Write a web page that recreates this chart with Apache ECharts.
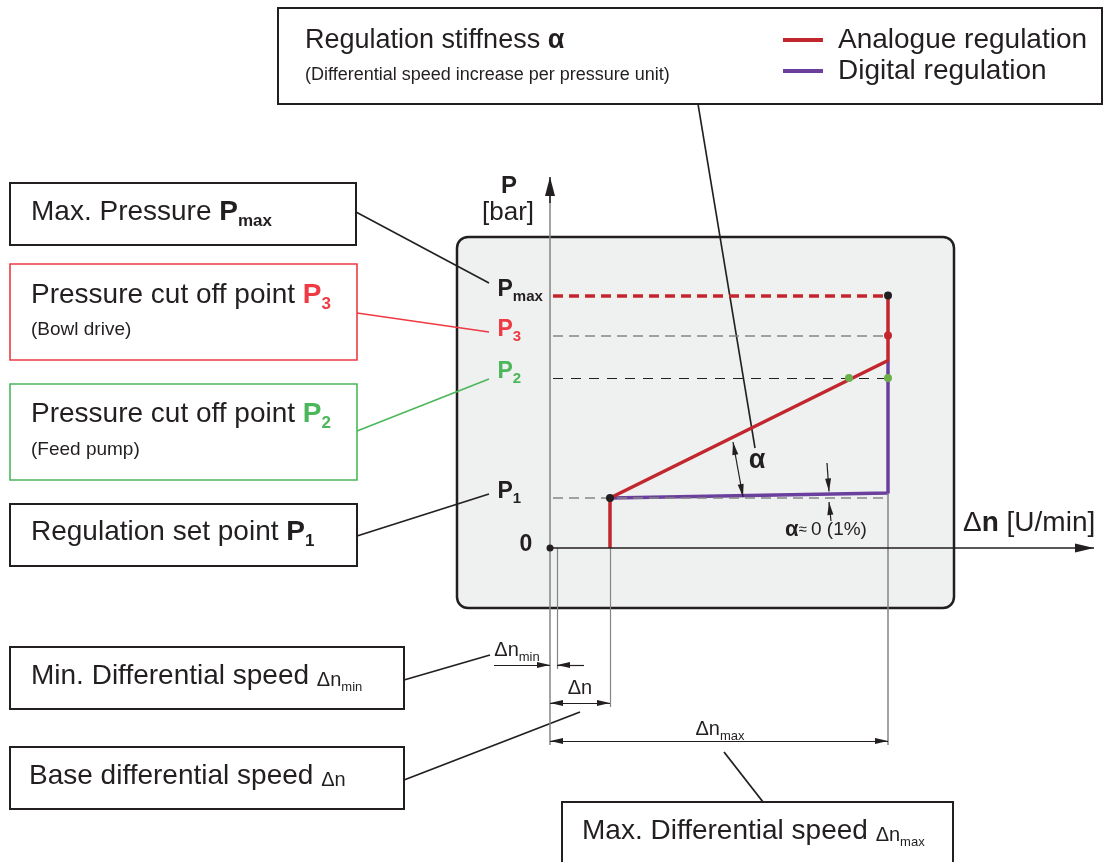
<!DOCTYPE html>
<html lang="en">
<head>
<meta charset="UTF-8">
<title>Regulation stiffness</title>
<script src="https://cdn.jsdelivr.net/npm/echarts@6/dist/echarts.min.js"></script>
<style>html,body{margin:0;padding:0;background:#fff;}</style>
</head>
<body>
<div id="main" style="width:1110px;height:862px;"></div>
<script type="text/javascript">
    // values (Δn in U/min, P in bar)
    var speedTicks = ['Δn_min', 'Δn', 'Δn_max'];
    var speedValues = [1.4, 12, 67.6];
    var pressureTicks = ['P1', 'P2', 'P3', 'Pmax'];
    var pressureValues = [1.0, 3.4, 4.25, 5.05];
    // analogue regulation: steep ramp from P1 up to the cut off at Δn_max
    var analogueX = [12, 12, 67.6, 67.6];
    var analogueY = [0, 1.0, 3.75, 5.05];
    // digital regulation: almost flat (α ≈ 0)
    var digitalX = [12, 67.6, 67.6];
    var digitalY = [1.0, 1.1, 3.75];
    // marked points
    var dotX = [0, 12, 67.6, 67.6, 59.8, 67.6];
    var dotY = [0, 1.0, 5.05, 4.25, 3.4, 3.4];

    var FONT = '"Liberation Sans", Arial, Helvetica, sans-serif';
    var ink = '#231f20', red = '#c1272d', purple = '#6a3f9e', grey = '#858585';
    var textRed = '#ee3a43', textGreen = '#4cb75a', dotGreen = '#6cb04a';
    var dotColors = [ink, ink, ink, red, dotGreen, dotGreen];

    function pairs(xs, ys) {
        return xs.map(function (x, i) { return [x, ys[i]]; });
    }

    // rich text piece; raise lifts normal text so that subscripts sit lower
    function piece(size, color, bold, raise) {
        return {
            fontFamily: FONT, fontSize: size, fontWeight: bold ? 'bold' : 'normal',
            color: color, fill: color, verticalAlign: 'bottom',
            padding: [0, 0, raise || 0, 0]
        };
    }
    var boxRich = {
        n: piece(28, ink, false, 4),
        nb: piece(28, ink, true, 4),
        nr: piece(28, textRed, true, 4),
        ng: piece(28, textGreen, true, 4),
        sb: piece(17, ink, true),
        sr: piece(17, textRed, true),
        sg: piece(17, textGreen, true),
        d: piece(20, ink, false, 4),
        ds: piece(13, ink, false)
    };

    // arrow ends for the mark lines
    var ARROW = 'path://M5,0L10,20L0,20Z';
    function head(coord, w, h) {
        return {coord: coord, symbol: ARROW, symbolSize: [w, h], symbolOffset: [0, h / 2]};
    }
    function foot(coord, style) {
        var o = {coord: coord, symbol: 'none'};
        if (style) o.lineStyle = style;
        return o;
    }

    var dnMin = speedValues[0], dnBase = speedValues[1], dnMax = speedValues[2];

    // dashed pressure levels
    var guideStyles = [
        {color: grey, width: 1.5, type: [10, 6]},
        {color: ink, width: 1.2, type: [10, 8]},
        {color: grey, width: 1.5, type: [10, 6]},
        {color: red, width: 3.5, type: [10, 6]}
    ];
    var guideLines = pressureValues.map(function (p, i) {
        return [foot([0.6, p], guideStyles[i]), foot([dnMax, p])];
    });

    // dimension line levels below the axis
    var dimLevel = [-2.34, -3.1, -3.86];
    var extEnd = [-2.42, -3.18, -3.94];

    var axisLines = [
        [foot([0, 0], {color: ink, width: 1.5}), head([108.8, 0], 9, 19)],
        [foot([0, extEnd[2]], {color: grey, width: 1.5}), foot([0, 7.1])],
        [foot([0, 6.9], {color: ink, width: 1.5}), head([0, 7.42], 10, 19)]
    ];
    var extLines = [
        [foot([dnMin, 0], {color: grey, width: 1.2}), foot([dnMin, extEnd[0]])],
        [foot([dnBase, 0], {color: grey, width: 1.2}), foot([dnBase, extEnd[1]])],
        [foot([dnMax, digitalY[1]], {color: grey, width: 1.5}), foot([dnMax, extEnd[2]])]
    ];
    var dimLines = [
        [foot([-11.2, dimLevel[0]]), head([0, dimLevel[0]], 6, 13)],
        [foot([6.8, dimLevel[0]]), head([dnMin, dimLevel[0]], 6, 13)],
        [head([0, dimLevel[1]], 6, 13), head([dnBase, dimLevel[1]], 6, 13)],
        [head([0, dimLevel[2]], 6, 13), head([dnMax, dimLevel[2]], 6, 13)],
        [head([36.6, 2.12], 6, 13), head([38.6, 1.02], 6, 13)],
        [foot([55.4, 1.7]), head([55.8, 1.13], 6, 13)],
        [foot([56.2, 0.54]), head([55.8, 0.92], 6, 13)]
    ];

    function markSeries(lines, z) {
        return {
            type: 'line', data: [], z: z, silent: true, color: ink,
            markLine: {
                silent: true, animation: false,
                symbol: ['none', 'none'],
                label: {show: false},
                emphasis: {disabled: true},
                itemStyle: {color: ink},
                lineStyle: {type: 'solid', color: ink, width: 1.2},
                data: lines
            }
        };
    }

    // y tick labels P1..Pmax and 0
    var tickRich = {
        m: piece(23, ink, true, 3), s: piece(15, ink, true),
        mg: piece(23, textGreen, true, 3), sg: piece(15, textGreen, true),
        mr: piece(23, textRed, true, 3), sr: piece(15, textRed, true)
    };
    var tickKeys = [['m', 's'], ['mg', 'sg'], ['mr', 'sr'], ['m', 's']];
    var labelItems = pressureTicks.map(function (t, i) {
        var k = tickKeys[i];
        return {
            value: [0, pressureValues[i]],
            label: {
                show: true, position: [-52, -4], align: 'left', verticalAlign: 'middle',
                formatter: '{' + k[0] + '|' + t.charAt(0) + '}{' + k[1] + '|' + t.slice(1) + '}',
                rich: tickRich
            }
        };
    });
    labelItems.push({
        value: [0, 0],
        label: {show: true, position: [-30, -3], align: 'left', verticalAlign: 'middle',
            formatter: '0', fontFamily: FONT, fontSize: 23, fontWeight: 'bold', color: ink}
    });
    function dimText(coord, str) {
        return {
            value: coord,
            label: {show: true, position: 'inside', formatter: str, rich: boxRich}
        };
    }
    labelItems.push(dimText([-6.6, -2.08], '{d|Δn}{ds|' + speedTicks[0].split('_')[1] + '}'));
    labelItems.push(dimText([6, -2.84], '{d|' + speedTicks[1] + '}'));
    labelItems.push(dimText([34, -3.66], '{d|Δn}{ds|' + speedTicks[2].split('_')[1] + '}'));
    labelItems.push({
        value: [41.4, 1.74],
        label: {show: true, position: 'inside', formatter: 'α', fontFamily: FONT,
            fontSize: 27, fontWeight: 'bold', color: ink}
    });
    labelItems.push({
        value: [55.2, 0.36],
        label: {show: true, position: 'inside', formatter: '{a|α}{b|≈ }{c|0 (1%)}',
            rich: {
                a: {fontFamily: FONT, fontSize: 22, fontWeight: 'bold', color: ink},
                b: {fontFamily: FONT, fontSize: 15, color: ink},
                c: {fontFamily: FONT, fontSize: 19, color: ink}
            }}
    });

    var myChart = echarts.init(document.getElementById('main'));
    var option = {
        animation: false,
        backgroundColor: '#ffffff',
        legend: {
            data: ['Analogue regulation', 'Digital regulation'],
            orient: 'vertical', left: 778, top: 21,
            icon: 'rect', itemWidth: 40, itemHeight: 4, itemGap: 3,
            selectedMode: false,
            textStyle: {fontFamily: FONT, fontSize: 28, color: ink, padding: [0, 0, 0, 10]}
        },
        grid: {left: 10, right: 10, top: 48, bottom: 14},
        xAxis: {type: 'value', min: -108, max: 110, show: false},
        yAxis: {type: 'value', min: -6, max: 10, show: false},
        graphic: [
            // grey panel behind the diagram
            {type: 'rect', z: 0, shape: {x: 457, y: 237, width: 497, height: 371, r: 11},
                style: {fill: '#eff0f0', stroke: ink, lineWidth: 2.5}},
            // top box
            {type: 'rect', z: 0, shape: {x: 278, y: 8, width: 824, height: 96},
                style: {fill: '#fff', stroke: ink, lineWidth: 2}},
            {type: 'text', z: 1, x: 305, y: 41, style: {
                text: '{n|Regulation stiffness }{a|α}', verticalAlign: 'middle',
                rich: {n: piece(27, ink, false), a: piece(27, ink, true)}}},
            {type: 'text', z: 1, x: 305, y: 75, style: {
                text: '(Differential speed increase per pressure unit)', verticalAlign: 'middle',
                font: '18px ' + FONT, fill: ink}},
            // left boxes
            {type: 'rect', z: 0, shape: {x: 10, y: 183, width: 346, height: 62},
                style: {fill: '#fff', stroke: ink, lineWidth: 2}},
            {type: 'text', z: 1, x: 31, y: 214, style: {
                text: '{n|Max. Pressure }{nb|P}{sb|max}', verticalAlign: 'middle', rich: boxRich}},
            {type: 'rect', z: 0, shape: {x: 10, y: 264, width: 347, height: 96},
                style: {fill: '#fff', stroke: textRed, lineWidth: 1.6}},
            {type: 'text', z: 1, x: 31, y: 297, style: {
                text: '{n|Pressure cut off point }{nr|P}{sr|3}', verticalAlign: 'middle', rich: boxRich}},
            {type: 'text', z: 1, x: 31, y: 330, style: {
                text: '(Bowl drive)', verticalAlign: 'middle', font: '19px ' + FONT, fill: ink}},
            {type: 'rect', z: 0, shape: {x: 10, y: 384, width: 347, height: 96},
                style: {fill: '#fff', stroke: textGreen, lineWidth: 1.6}},
            {type: 'text', z: 1, x: 31, y: 416, style: {
                text: '{n|Pressure cut off point }{ng|P}{sg|2}', verticalAlign: 'middle', rich: boxRich}},
            {type: 'text', z: 1, x: 31, y: 450, style: {
                text: '(Feed pump)', verticalAlign: 'middle', font: '19px ' + FONT, fill: ink}},
            {type: 'rect', z: 0, shape: {x: 10, y: 504, width: 347, height: 62},
                style: {fill: '#fff', stroke: ink, lineWidth: 2}},
            {type: 'text', z: 1, x: 31, y: 534, style: {
                text: '{n|Regulation set point }{nb|P}{sb|1}', verticalAlign: 'middle', rich: boxRich}},
            {type: 'rect', z: 0, shape: {x: 10, y: 647, width: 394, height: 62},
                style: {fill: '#fff', stroke: ink, lineWidth: 2}},
            {type: 'text', z: 1, x: 31, y: 678, style: {
                text: '{n|Min. Differential speed }{d|Δn}{ds|min}', verticalAlign: 'middle', rich: boxRich}},
            {type: 'rect', z: 0, shape: {x: 10, y: 747, width: 394, height: 62},
                style: {fill: '#fff', stroke: ink, lineWidth: 2}},
            {type: 'text', z: 1, x: 29, y: 778, style: {
                text: '{n|Base differential speed }{d|Δn}', verticalAlign: 'middle', rich: boxRich}},
            {type: 'rect', z: 0, shape: {x: 562, y: 802, width: 391, height: 70},
                style: {fill: '#fff', stroke: ink, lineWidth: 2}},
            {type: 'text', z: 1, x: 582, y: 833, style: {
                text: '{n|Max. Differential speed }{d|Δn}{ds|max}', verticalAlign: 'middle', rich: boxRich}},
            // axis titles
            {type: 'text', z: 1, x: 509, y: 186, style: {
                text: 'P', align: 'center', verticalAlign: 'middle', font: 'bold 24px ' + FONT, fill: ink}},
            {type: 'text', z: 1, x: 508, y: 213, style: {
                text: '[bar]', align: 'center', verticalAlign: 'middle', font: '26px ' + FONT, fill: ink}},
            {type: 'text', z: 1, x: 963, y: 523, style: {
                text: '{a|Δ}{b|n}{a| [U/min]}', verticalAlign: 'middle',
                rich: {a: piece(28, ink, false), b: piece(28, ink, true)}}},
            // leader lines
            {type: 'line', z: 3, shape: {x1: 356, y1: 212, x2: 489, y2: 283}, style: {stroke: ink, lineWidth: 1.6}},
            {type: 'line', z: 3, shape: {x1: 357, y1: 313, x2: 489, y2: 332}, style: {stroke: textRed, lineWidth: 1.6}},
            {type: 'line', z: 3, shape: {x1: 357, y1: 431, x2: 489, y2: 379}, style: {stroke: textGreen, lineWidth: 1.6}},
            {type: 'line', z: 3, shape: {x1: 357, y1: 536, x2: 489, y2: 494}, style: {stroke: ink, lineWidth: 1.8}},
            {type: 'line', z: 3, shape: {x1: 404, y1: 680, x2: 490, y2: 655}, style: {stroke: ink, lineWidth: 1.8}},
            {type: 'line', z: 3, shape: {x1: 404, y1: 780, x2: 580, y2: 712}, style: {stroke: ink, lineWidth: 1.8}},
            {type: 'line', z: 3, shape: {x1: 763, y1: 802, x2: 724, y2: 752}, style: {stroke: ink, lineWidth: 1.8}},
            {type: 'line', z: 3, shape: {x1: 698, y1: 104, x2: 755, y2: 448}, style: {stroke: ink, lineWidth: 1.6}}
        ],
        series: [
            markSeries(guideLines, 2),
            markSeries(extLines, 2),
            markSeries(axisLines, 2),
            {
                name: 'Digital regulation', type: 'line', z: 3, silent: true,
                color: purple, symbol: 'none',
                lineStyle: {color: purple, width: 3.5},
                data: pairs(digitalX, digitalY)
            },
            {
                name: 'Analogue regulation', type: 'line', z: 4, silent: true,
                color: red, symbol: 'none',
                lineStyle: {color: red, width: 3.5},
                data: pairs(analogueX, analogueY)
            },
            markSeries(dimLines, 5),
            {
                type: 'scatter', z: 6, silent: true, symbolSize: 8,
                itemStyle: {opacity: 1},
                data: pairs(dotX, dotY).map(function (v, i) {
                    return {value: v, itemStyle: {color: dotColors[i], opacity: 1}, symbolSize: i === 0 ? 7 : 8};
                })
            },
            {
                type: 'scatter', z: 7, silent: true, symbolSize: 1,
                itemStyle: {color: 'rgba(0,0,0,0)', opacity: 1},
                data: labelItems
            }
        ]
    };
    myChart.setOption(option);
</script>
</body>
</html>
